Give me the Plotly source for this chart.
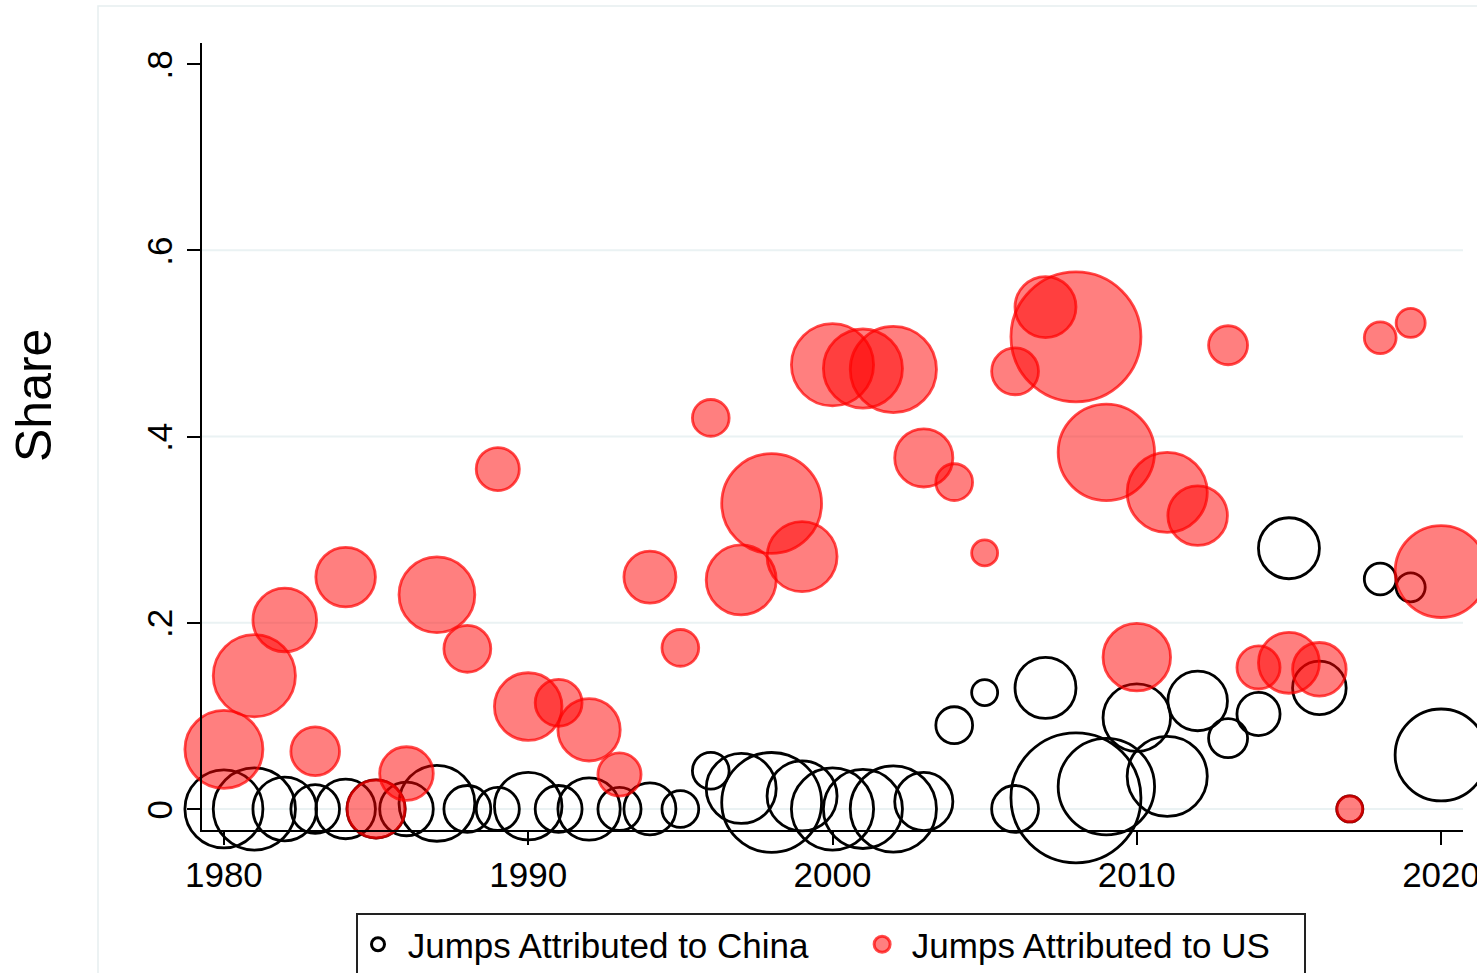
import plotly.graph_objects as go

# years and shares
years = list(range(1980, 2021))

share_china = [0, 0, 0, 0, 0, 0, 0, 0.006, 0, 0,
               0.003, 0, 0, 0, 0, 0, 0.041, 0.022, 0.007, 0.014,
               0, 0, 0, 0.008, 0.090, 0.125, 0, 0.130, 0.012, 0.024,
               0.098, 0.035, 0.116, 0.076, 0.102, 0.280, 0.130, 0, 0.247, 0.238,
               0.058]

share_us = [0.064, 0.143, 0.203, 0.062, 0.249, 0, 0.038, 0.230, 0.172, 0.365,
            0.110, 0.114, 0.085, 0.037, 0.249, 0.173, 0.420, 0.246, 0.328, 0.271,
            0.477, 0.473, 0.472, 0.377, 0.351, 0.275, 0.470, 0.539, 0.507, 0.383,
            0.163, 0.340, 0.315, 0.498, 0.152, 0.157, 0.150, 0, 0.506, 0.522,
            0.255]

# bubble weight (number of jumps) per year, shared by both series
n_jumps = [36, 40, 24, 14, 21, 20, 17, 34, 13, 11,
           27, 13, 23, 11, 16, 8, 8, 29, 59, 29,
           40, 37, 44, 20, 8, 4, 13, 22, 100, 55,
           27, 38, 21, 9, 11, 22, 17, 4, 6, 5,
           50]

y_ticks = [0, 0.2, 0.4, 0.6, 0.8]
y_tick_text = ["0", ".2", ".4", ".6", ".8"]
grid_vals = [0, 0.2, 0.4, 0.6]
x_ticks = [1980, 1990, 2000, 2010, 2020]

W, H = 1477, 973
L, R, T, B = 202, 14, 43, 143
pw, ph = W - L - R, H - T - B
FONT = "Liberation Sans, Arial, sans-serif"
sref = 1 / 84.5
NB = "\u00a0"

RED_FILL = "rgba(255,0,0,0.5)"
RED_LINE = "rgba(255,0,0,0.7)"


def px_x(x):  # screen px -> paper x
    return (x - L) / pw


def px_y(y):  # screen px -> paper y
    return (H - B - y) / ph


fig = go.Figure()

fig.add_trace(go.Scatter(
    x=years, y=share_china, mode="markers", showlegend=False, cliponaxis=False,
    marker=dict(size=n_jumps, sizemode="area", sizeref=sref, opacity=1,
                color="rgba(0,0,0,0)", line=dict(color="black", width=2.8)),
))
fig.add_trace(go.Scatter(
    x=years, y=share_us, mode="markers", showlegend=False, cliponaxis=False,
    marker=dict(size=n_jumps, sizemode="area", sizeref=sref, opacity=1,
                color=RED_FILL, line=dict(color=RED_LINE, width=2.8)),
))

# legend entries
fig.add_trace(go.Scatter(
    x=[None], y=[None], mode="markers", name=NB + "Jumps Attributed to China" + NB * 5,
    marker=dict(size=13, opacity=1, color="rgba(0,0,0,0)", line=dict(color="black", width=3)),
))
fig.add_trace(go.Scatter(
    x=[None], y=[None], mode="markers", name=NB + "Jumps Attributed to US" + NB * 3,
    marker=dict(size=16, opacity=1, color=RED_FILL, line=dict(color=RED_LINE, width=3)),
))

shapes = []
for g in grid_vals:
    shapes.append(dict(type="line", xref="paper", yref="y", x0=0, x1=1, y0=g, y1=g,
                       line=dict(color="#EAF2F3", width=2), layer="below"))
# faint outer graph-region frame
shapes.append(dict(type="rect", xref="paper", yref="paper",
                   x0=px_x(98), x1=px_x(1500), y0=px_y(1000), y1=px_y(6),
                   line=dict(color="#E6EEF0", width=1.5), layer="below"))

fig.update_layout(
    width=W, height=H,
    margin=dict(l=L, r=R, t=T, b=B, autoexpand=False),
    plot_bgcolor="white", paper_bgcolor="white",
    font=dict(family=FONT, size=35, color="black"),
    shapes=shapes,
    showlegend=True,
    legend=dict(orientation="h", x=px_x(356), y=px_y(913),
                xanchor="left", yanchor="top",
                bordercolor="#222", borderwidth=2, bgcolor="white",
                itemsizing="trace", font=dict(size=35)),
    annotations=[dict(text="Share", xref="paper", yref="paper",
                      x=px_x(34), y=px_y(396),
                      textangle=-90, showarrow=False, font=dict(size=50),
                      xanchor="center", yanchor="middle")],
)

fig.update_xaxes(range=[1979.28, 2020.72], tickvals=x_ticks,
                 showline=True, linecolor="black", linewidth=2,
                 ticks="outside", ticklen=13, tickwidth=2, tickcolor="black",
                 ticklabeloverflow="allow",
                 showgrid=False, zeroline=False)
fig.update_yaxes(range=[-0.0226, 0.8226], tickvals=y_ticks, ticktext=y_tick_text,
                 tickangle=-90, ticklabelstandoff=1, ticklabelshift=6,
                 showline=True, linecolor="black", linewidth=2,
                 ticks="outside", ticklen=13, tickwidth=2, tickcolor="black",
                 showgrid=False, zeroline=False)

fig.write_html("out.html", config={"displayModeBar": False},
               post_script="document.body.style.margin='0';")
